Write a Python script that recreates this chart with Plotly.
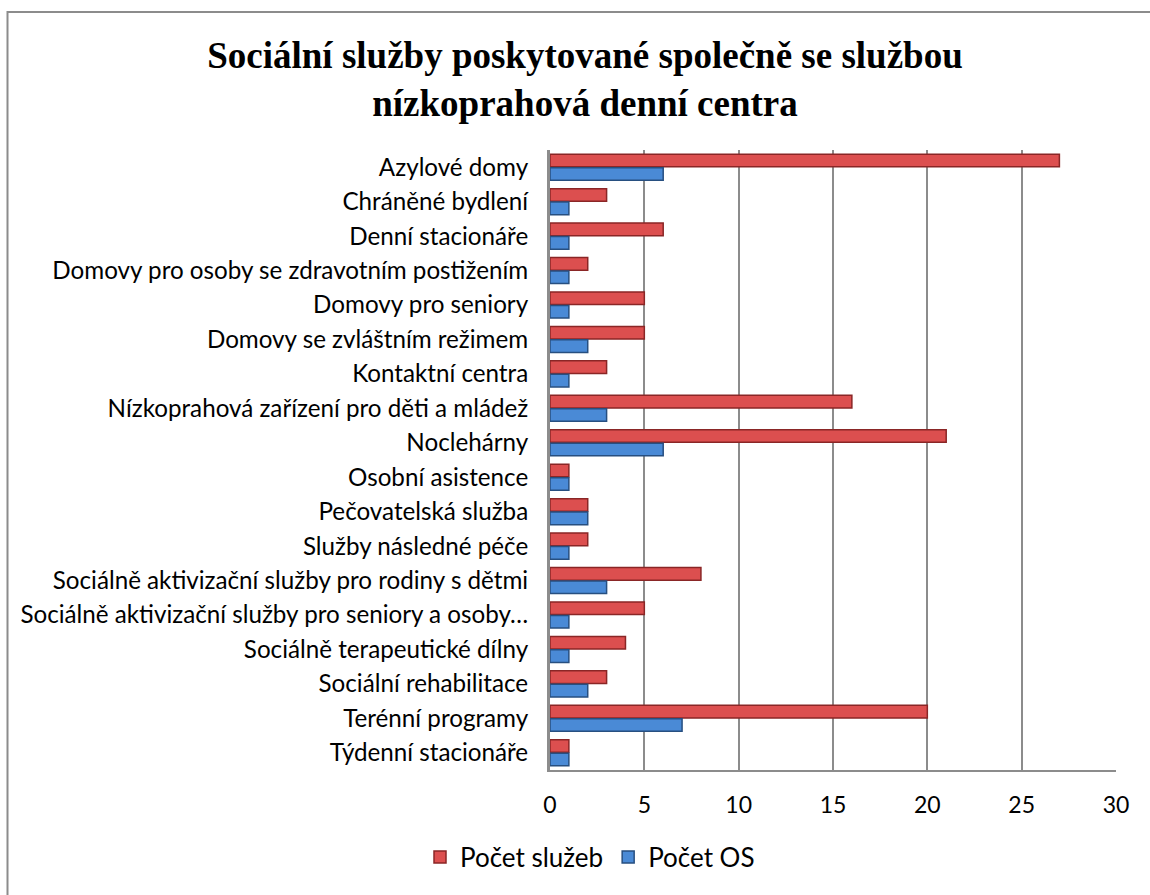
import plotly.graph_objects as go

categories = [
    "Azylové domy",
    "Chráněné bydlení",
    "Denní stacionáře",
    "Domovy pro osoby se zdravotním postižením",
    "Domovy pro seniory",
    "Domovy se zvláštním režimem",
    "Kontaktní centra",
    "Nízkoprahová zařízení pro děti a mládež",
    "Noclehárny",
    "Osobní asistence",
    "Pečovatelská služba",
    "Služby následné péče",
    "Sociálně aktivizační služby pro rodiny s dětmi",
    "Sociálně aktivizační služby pro seniory a osoby…",
    "Sociálně terapeutické dílny",
    "Sociální rehabilitace",
    "Terénní programy",
    "Týdenní stacionáře",
]
pocet_sluzeb = [27, 3, 6, 2, 5, 5, 3, 16, 21, 1, 2, 2, 8, 5, 4, 3, 20, 1]
pocet_os = [6, 1, 1, 1, 1, 2, 1, 3, 6, 1, 2, 1, 3, 1, 1, 2, 7, 1]
x_ticks = [0, 5, 10, 15, 20, 25, 30]

LABEL_FONT = "Lato, 'Open Sans', sans-serif"

fig = go.Figure()
fig.add_trace(go.Bar(
    y=categories, x=pocet_sluzeb, orientation="h", name="Počet služeb",
    marker=dict(color="#dc4f4f", line=dict(color="#8a2626", width=1.5)),
))
fig.add_trace(go.Bar(
    y=categories, x=pocet_os, orientation="h", name="Počet OS",
    marker=dict(color="#4a8ad6", line=dict(color="#274f80", width=1.5)),
))

# plot area in pixels: left 550, right 1116, top 150, bottom 770
L, R, T, B = 550, 1116, 150, 770
W, H = 1150, 895
pw, ph = R - L, B - T


def px_x(p):
    return (p - L) / pw


def px_y(p):
    return (B - p) / ph


fig.update_layout(
    width=W, height=H,
    margin=dict(l=L, r=W - R, t=T, b=H - B, autoexpand=False),
    paper_bgcolor="white", plot_bgcolor="white",
    barmode="group", bargap=0.22, bargroupgap=0.06,
    title=dict(
        text="Sociální služby poskytované společně se službou<br>nízkoprahová denní centra",
        font=dict(family="'Liberation Serif', 'Times New Roman', serif", size=37, color="black", weight="bold"),
        x=585 / W, xanchor="center", y=1 - 68 / H, yanchor="middle",
    ),
    xaxis=dict(
        range=[0, 30], tickvals=x_ticks, showgrid=True, gridcolor="#8c8c8c", gridwidth=2,
        showline=True, linecolor="#8c8c8c", linewidth=2, zeroline=False,
        ticks="", ticklabelstandoff=13, automargin=False,
        tickfont=dict(family=LABEL_FONT, size=23, color="black"),
    ),
    yaxis=dict(
        autorange="reversed", showline=True, linecolor="#8c8c8c", linewidth=3,
        ticks="", ticklabelstandoff=14, automargin=False,
        tickfont=dict(family=LABEL_FONT, size=24.2, color="black"),
    ),
    legend=dict(
        orientation="h", x=px_x(590), xanchor="center", y=px_y(857), yanchor="middle",
        font=dict(family=LABEL_FONT, size=26, color="black"),
        itemwidth=30, traceorder="normal",
    ),
    showlegend=True,
    shapes=[dict(
        type="rect", xref="paper", yref="paper",
        x0=px_x(7.5), x1=px_x(1160), y0=px_y(905), y1=px_y(12),
        line=dict(color="#8c8c8c", width=2), layer="below",
    )],
)

fig.write_html("out.html")
